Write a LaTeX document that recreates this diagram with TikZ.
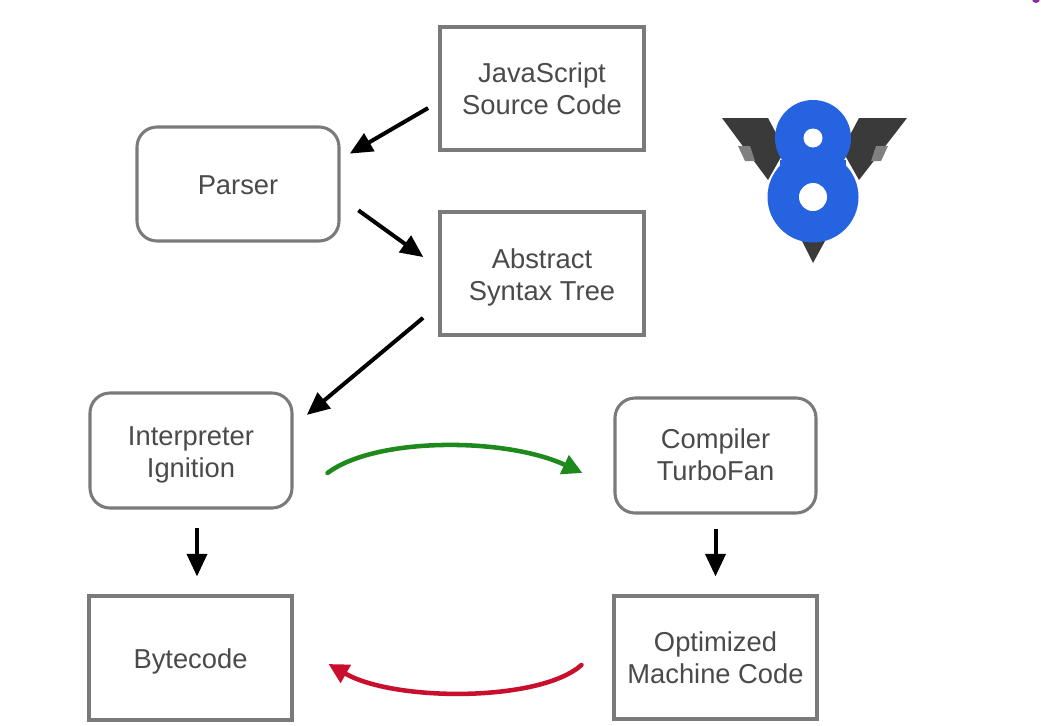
\documentclass[tikz,border=0pt]{standalone}
\usepackage{fontspec}
\setmainfont{Liberation Sans}
\usetikzlibrary{calc,arrows.meta}
\definecolor{boxline}{HTML}{7A7A7A}
\definecolor{txt}{HTML}{4A4A4A}
\definecolor{logodark}{HTML}{3A3A3A}
\definecolor{logogray}{HTML}{808080}
\definecolor{logoblue}{HTML}{2563E0}
\definecolor{arrgreen}{HTML}{1E8A1E}
\definecolor{arrred}{HTML}{C8102E}
\definecolor{speck}{HTML}{8A2BA8}
\tikzset{
  x=0.75pt,y=-0.75pt,
  square/.style={draw=boxline,line width=2.3pt,fill=white,inner sep=0pt,text=txt,
    font=\fontsize{20.5}{24.2}\selectfont},
  rounded/.style={square,rounded corners=15pt},
  arr/.style={line width=3pt,black,-{Triangle[length=17pt,width=15pt]}},
  curved/.style={line width=3.4pt,line cap=round,-{Triangle[length=15pt,width=15pt]}},
}
\newcommand{\bx}[8]{\node[#1,minimum width=#6*0.75pt,minimum height=#7*0.75pt] (#2) at (#3,#4) {\raisebox{-#8pt}[0pt][0pt]{\begin{tabular}{@{}c@{}}#5\end{tabular}}};}
\begin{document}
\begin{tikzpicture}
\useasboundingbox (0,0) rectangle (1041,725);
\fill[white] (0,0) rectangle (1041,725);
% boxes
\bx{square}{js}{542}{88.5}{JavaScript\\Source Code}{204}{123}{7.75}
\bx{square}{ast}{542}{273.5}{Abstract\\Syntax Tree}{204}{123}{8.45}
\bx{rounded}{parser}{238}{184}{Parser}{202}{114}{8.1}
\bx{rounded}{interp}{191}{450.5}{Interpreter\\Ignition}{202}{115}{8.45}
\bx{rounded}{comp}{715.5}{455.5}{Compiler\\TurboFan}{201}{115}{7}
\bx{square}{byte}{190.5}{658}{Bytecode}{203}{124}{8.1}
\bx{square}{opt}{715.5}{657.5}{Optimized\\Machine Code}{203}{123}{7.75}
% connectors
\draw[arr,shorten <=9pt,shorten >=8pt] ($(js.west)+(0,13.5)$) -- ($(parser.east)+(0,-25)$);
\draw[arr,shorten <=16.5pt,shorten >=14pt] ($(parser.east)+(0,13.5)$) -- ($(ast.west)+(0,-5.5)$);
\draw[arr,shorten <=15pt,shorten >=13pt] ($(ast.west)+(0,31.5)$) -- ($(interp.east)+(0,-24.5)$);
\draw[arr,shorten <=14pt,shorten >=13.5pt] ($(interp.south)+(6,0)$) -- ($(byte.north)+(6.5,0)$);
\draw[arr,shorten <=10.5pt,shorten >=13.5pt] (comp.south) -- (opt.north);
\coordinate (gs) at ($(interp.east)+(34,22.5)$);
\coordinate (ge) at ($(comp.west)+(-31,17.5)$);
\coordinate (rs) at ($(opt.west)+(-31,7.5)$);
\coordinate (re) at ($(byte.east)+(35,6)$);
\draw[curved,arrgreen] (gs) .. controls (375,437) and (505,437) .. (ge);
\draw[curved,arrred] (rs) .. controls (540,702) and (395,702) .. (re);
% V8 logo
\fill[logodark] (722,118) -- (768,118) -- (785,150) -- (768,180) -- cycle;
\fill[logodark] (907,118) -- (859,118) -- (842,150) -- (859,180) -- cycle;
\fill[logogray] (738,146) -- (750,146) -- (755,161) -- (745,161) -- cycle;
\fill[logogray] (888,146) -- (876,146) -- (871,161) -- (881,161) -- cycle;
\fill[logodark] (802,241) -- (825,241) -- (813,263) -- cycle;
\fill[logoblue] (813,138) circle [radius=38*0.75pt];
\fill[logoblue] (813,197) circle [radius=45.5*0.75pt];
\fill[logoblue] (780,160) -- (846,160) -- (846,170) -- (780,170) -- cycle;
\fill[white] (813,138) circle [radius=9.5*0.75pt];
\fill[white] (813,197) circle [radius=14*0.75pt];
% speck at the top right edge
\fill[speck] (1036,-1) circle [radius=4*0.75pt];
\end{tikzpicture}
\end{document}
